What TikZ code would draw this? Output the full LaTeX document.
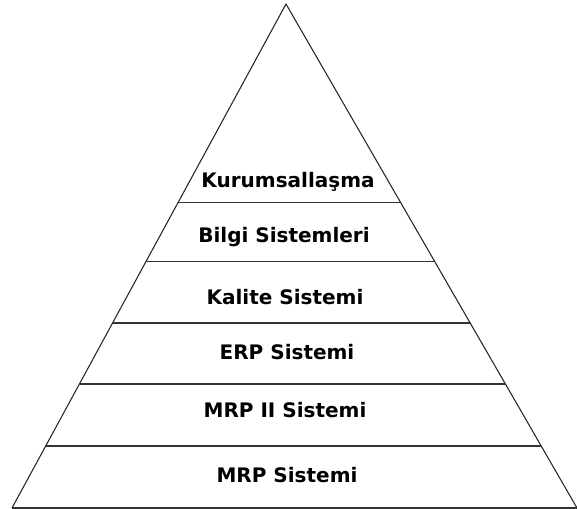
\documentclass[tikz,border=0pt]{standalone}
\usepackage{fontspec}
\setmainfont{DejaVu Sans}
\usetikzlibrary{calc}
\begin{document}
\begin{tikzpicture}[x=0.75pt,y=-0.75pt,
  edge/.style={draw=black!85,line width=0.8pt},
  layer/.style={draw=black!80,line width=0.8pt},
  lbl/.style={font=\bfseries\fontsize{15pt}{17pt}\selectfont,text=black,inner sep=0pt}]
  \useasboundingbox (0,0) rectangle (577,509);
  % outline of the pyramid
  \coordinate (apex) at (286,4);
  \coordinate (bl) at (12,508);
  \coordinate (br) at (577,508);
  \draw[edge] (bl) -- (apex) -- (br);
  \draw[layer] (bl) -- (br);
  % layer boundaries, as fractions of the height from the apex
  \foreach \t [count=\i] in {0.393,0.510,0.633,0.754,0.877}{
    \coordinate (l\i) at ($(apex)!\t!(bl)$);
    \coordinate (r\i) at ($(apex)!\t!(br)$);
    \draw[layer] (l\i) -- (r\i);
  }
  % layer labels
  \node[lbl] (kur) at (288,182) {Kurumsallaşma};
  \node[lbl] (bil) at (284,237) {Bilgi Sistemleri};
  \node[lbl] (kal) at (285,297) {Kalite Sistemi};
  \node[lbl] (erp) at (287,352) {ERP Sistemi};
  \node[lbl] (mrp2) at (285,410) {MRP II Sistemi};
  \node[lbl] (mrp) at (287,475) {MRP Sistemi};
\end{tikzpicture}
\end{document}
